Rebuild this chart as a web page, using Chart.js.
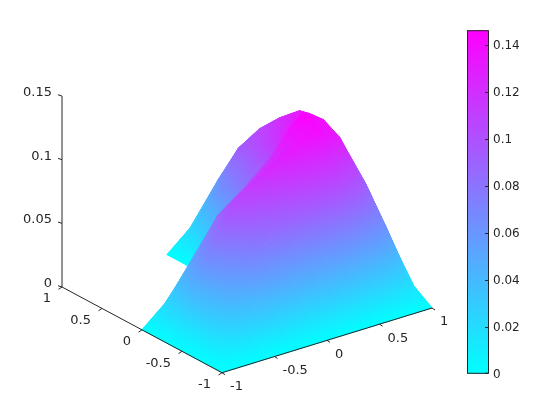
<!DOCTYPE html>
<html>
<head>
<meta charset="utf-8">
<title>surface</title>
<script src="https://cdn.jsdelivr.net/npm/chart.js@4"></script>
<style>
  html, body { margin: 0; padding: 0; background: #fff; }
  #wrap { position: relative; width: 560px; height: 420px; overflow: hidden; }
  #surface { position: absolute; left: 0; top: 0; }
  #colorbar { position: absolute; left: 460px; top: 18px; }
</style>
</head>
<body>
<div id="wrap">
  <canvas id="surface" width="560" height="420"></canvas>
  <canvas id="colorbar" width="90" height="368"></canvas>
</div>
<script>
// grid of the surface (null = hole of the L shape)
const xGrid = [-1, -0.875, -0.75, -0.5, -0.25, 0, 0.125, 0.3, 0.5, 0.75, 0.875, 1]
const yGrid = [-1, -0.875, -0.75, -0.5, -0.3, -0.125, 0, 0.25, 0.5, 0.75, 0.875, 1]
const zY100m = [0, 0, 0, 0, 0, 0, 0, 0, 0, 0, 0, 0]
const zY088m = [0, 0.014, 0.027, 0.041, 0.049, 0.053, 0.055, 0.055, 0.051, 0.037, 0.021, 0]
const zY075m = [0, 0.027, 0.047, 0.072, 0.085, 0.093, 0.096, 0.096, 0.088, 0.062, 0.036, 0]
const zY050m = [0, 0.038, 0.068, 0.105, 0.120, 0.132, 0.136, 0.140, 0.130, 0.087, 0.050, 0]
const zY030m = [0, 0.032, 0.055, 0.088, 0.103, 0.120, 0.133, 0.1475, 0.137, 0.102, 0.058, 0]
const zY013m = [0, 0.022, 0.035, 0.062, 0.078, 0.088, 0.110, 0.130, 0.136, 0.097, 0.056, 0]
const zY000 = [0, 0, 0, 0, 0, 0, 0.088, 0.120, 0.134, 0.097, 0.055, 0]
const zY025 = [null, null, null, null, null, 0, 0.078, 0.103, 0.120, 0.087, 0.048, 0]
const zY050 = [null, null, null, null, null, 0, 0.062, 0.093, 0.103, 0.070, 0.038, 0]
const zY075 = [null, null, null, null, null, 0, 0.035, 0.060, 0.070, 0.047, 0.027, 0]
const zY088 = [null, null, null, null, null, 0, 0.022, 0.032, 0.038, 0.027, 0.014, 0]
const zY100 = [null, null, null, null, null, 0, 0, 0, 0, 0, 0, 0]
const zRows = [zY100m, zY088m, zY075m, zY050m, zY030m, zY013m, zY000, zY025, zY050, zY075, zY088, zY100]

const xTicks = [-1, -0.5, 0, 0.5, 1]
const yTicks = [-1, -0.5, 0, 0.5, 1]
const zTicks = [0, 0.05, 0.1, 0.15]
const colorMax = 0.1462

const textColor = '#262626'
const fontSpec = '13px "DejaVu Sans"'

// fixed view of the 3d box, in canvas units
function project(x, y, z) {
    return {
        x: 222 + 105 * (x + 1) - 80 * (y + 1),
        y: 372.7 - 32.35 * (x + 1) - 42.85 * (y + 1) - 1273 * z
    }
}

function coolColor(z) {
    const t = Math.min(1, Math.max(0, z / colorMax))
    return `rgb(${Math.round(255 * t)}, ${Math.round(255 * (1 - t))}, 255)`
}

// cool map is linear in z, so a flat triangle is a plain linear gradient
function triangleFill(chart, tri) {
    const sx = chart.scales.x, sy = chart.scales.y
    const pts = tri.map(p => {
        const q = project(p.x, p.y, p.z)
        return { x: sx.getPixelForValue(q.x), y: sy.getPixelForValue(q.y), z: p.z }
    })
    const zs = pts.map(p => p.z)
    const zMin = Math.min(...zs), zMax = Math.max(...zs)
    const ux = pts[1].x - pts[0].x, uy = pts[1].y - pts[0].y, uz = pts[1].z - pts[0].z
    const vx = pts[2].x - pts[0].x, vy = pts[2].y - pts[0].y, vz = pts[2].z - pts[0].z
    const det = ux * vy - uy * vx
    if (!isFinite(det) || Math.abs(det) < 1e-6 || zMax - zMin < 1e-9) return coolColor(zMax)
    const a = (uz * vy - vz * uy) / det
    const b = (ux * vz - vx * uz) / det
    const n = a * a + b * b
    const g = chart.ctx.createLinearGradient(
        pts[0].x + a * (zMin - pts[0].z) / n, pts[0].y + b * (zMin - pts[0].z) / n,
        pts[0].x + a * (zMax - pts[0].z) / n, pts[0].y + b * (zMax - pts[0].z) / n)
    g.addColorStop(0, coolColor(zMin))
    g.addColorStop(1, coolColor(zMax))
    return g
}

function nodeAt(i, j) {
    return { x: xGrid[i], y: yGrid[j], z: zRows[j][i] }
}

function triangleDataset(tri) {
    const paint = c => triangleFill(c.chart, tri)
    const corners = tri.concat(tri[0]).map(p => project(p.x, p.y, p.z))
    return {
        data: corners,
        showLine: true,
        fill: 'shape',
        backgroundColor: paint,
        borderColor: paint,
        borderWidth: 1,
        pointRadius: 0,
        tension: 0
    }
}

function segmentDataset(a, b) {
    return {
        data: [a, b],
        showLine: true,
        fill: false,
        borderColor: textColor,
        borderWidth: 1,
        pointRadius: 0
    }
}

function shift(p, dx, dy) {
    return { x: p.x + dx, y: p.y + dy }
}

const datasets = []

// box edges and ticks go on top, the library draws dataset 0 last
datasets.push(segmentDataset(project(-1, -1, 0), project(1, -1, 0)))
datasets.push(segmentDataset(project(-1, -1, 0), project(-1, 1, 0)))
datasets.push(segmentDataset(project(-1, 1, 0), project(-1, 1, zTicks[3])))
xTicks.forEach(v => {
    const p = project(v, -1, 0)
    datasets.push(segmentDataset(p, shift(p, 3, 2)))
})
yTicks.forEach(v => {
    const p = project(-1, v, 0)
    datasets.push(segmentDataset(p, shift(p, -3.5, 2.3)))
})
zTicks.forEach(v => {
    const p = project(-1, 1, v)
    datasets.push(segmentDataset(p, shift(p, -4, -1.3)))
})

// near cells first in the list, so the far ones get painted first
const cells = []
for (let j = 0; j < yGrid.length - 1; j++) {
    for (let i = 0; i < xGrid.length - 1; i++) {
        if (zRows[j][i] === null || zRows[j + 1][i] === null) continue
        if (zRows[j][i + 1] === null || zRows[j + 1][i + 1] === null) continue
        cells.push({ depth: i + j, tri: [nodeAt(i, j), nodeAt(i + 1, j), nodeAt(i, j + 1)] })
        cells.push({ depth: i + j + 0.5, tri: [nodeAt(i + 1, j), nodeAt(i + 1, j + 1), nodeAt(i, j + 1)] })
    }
}
cells.sort((a, b) => a.depth - b.depth)
cells.forEach(c => datasets.push(triangleDataset(c.tri)))

const tickTextPlugin = {
    id: 'tickText',
    afterDraw(chart) {
        const ctx = chart.ctx
        const sx = chart.scales.x, sy = chart.scales.y
        ctx.save()
        ctx.font = fontSpec
        ctx.fillStyle = textColor
        ctx.textBaseline = 'middle'
        ctx.textAlign = 'left'
        xTicks.forEach(v => {
            const p = project(v, -1, 0)
            ctx.fillText(String(v), sx.getPixelForValue(p.x) + 8, sy.getPixelForValue(p.y) + 14)
        })
        ctx.textAlign = 'right'
        yTicks.forEach(v => {
            const p = project(-1, v, 0)
            ctx.fillText(String(v), sx.getPixelForValue(p.x) - 11, sy.getPixelForValue(p.y) + 12)
        })
        zTicks.forEach(v => {
            const p = project(-1, 1, v)
            ctx.fillText(String(v), sx.getPixelForValue(p.x) - 10, sy.getPixelForValue(p.y) - 3.5)
        })
        ctx.restore()
    }
}

new Chart(document.getElementById('surface').getContext('2d'), {
    type: 'scatter',
    data: { datasets: datasets },
    options: {
        responsive: false,
        animation: false,
        layout: { padding: 0 },
        plugins: { legend: { display: false }, tooltip: { enabled: false } },
        scales: {
            x: { type: 'linear', min: 0, max: 560, display: false },
            y: { type: 'linear', min: 0, max: 420, reverse: true, display: false }
        }
    },
    plugins: [tickTextPlugin]
})

const barFramePlugin = {
    id: 'barFrame',
    afterDraw(chart) {
        const ctx = chart.ctx, a = chart.chartArea, sy = chart.scales.y
        ctx.save()
        ctx.strokeStyle = textColor
        ctx.lineWidth = 1
        ctx.strokeRect(a.left + 0.5, a.top + 0.5, a.right - a.left, a.bottom - a.top - 1)
        sy.ticks.forEach(t => {
            const py = Math.min(Math.round(sy.getPixelForValue(t.value)) + 0.5, a.bottom - 0.5)
            ctx.beginPath()
            ctx.moveTo(a.right, py)
            ctx.lineTo(a.right - 3, py)
            ctx.stroke()
        })
        ctx.restore()
    }
}

new Chart(document.getElementById('colorbar').getContext('2d'), {
    type: 'bar',
    data: {
        labels: ['z'],
        datasets: [{
            data: [colorMax],
            barPercentage: 1,
            categoryPercentage: 1,
            backgroundColor: c => {
                const a = c.chart.chartArea
                if (!a) return coolColor(colorMax)
                const g = c.chart.ctx.createLinearGradient(0, a.bottom, 0, a.top)
                g.addColorStop(0, coolColor(0))
                g.addColorStop(1, coolColor(colorMax))
                return g
            }
        }]
    },
    options: {
        responsive: false,
        animation: false,
        layout: { padding: { left: 7, right: 0, top: 8, bottom: 8 } },
        plugins: { legend: { display: false }, tooltip: { enabled: false } },
        scales: {
            x: { display: false },
            y: {
                position: 'right',
                min: 0,
                max: colorMax,
                afterFit: s => { s.width = 62 },
                grid: { display: false, drawTicks: false },
                border: { display: false },
                ticks: {
                    stepSize: 0.02,
                    includeBounds: false,
                    padding: 5,
                    labelOffset: 1,
                    color: textColor,
                    font: { family: 'DejaVu Sans', size: 12 },
                    callback: v => String(+v.toFixed(2))
                }
            }
        }
    },
    plugins: [barFramePlugin]
})
</script>
</body>
</html>
